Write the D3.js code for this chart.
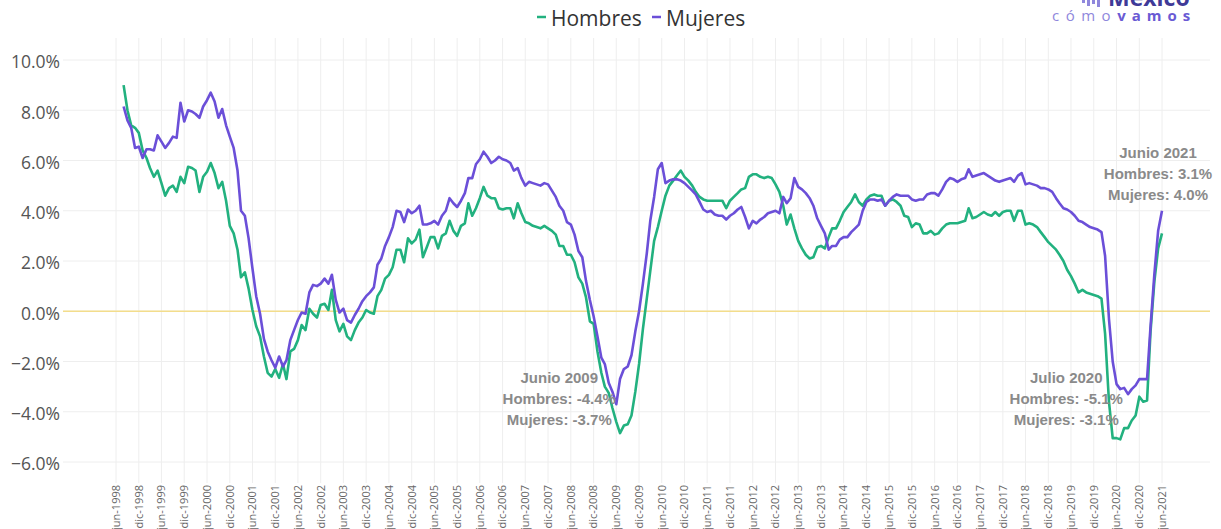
<!DOCTYPE html>
<html>
<head>
<meta charset="utf-8">
<script src="https://cdn.jsdelivr.net/npm/d3@7"></script>
<style>
  html, body { margin: 0; padding: 0; background: #fff; }
  svg { display: block; font-family: "Open Sans", sans-serif; }
  .grid line { stroke: #eeeeee; stroke-width: 1; }
  .ylab { font-size: 17.5px; fill: #555; }
  .xlab { font-size: 11px; fill: #666; }
  .note { font-family: "Liberation Sans", Arial, sans-serif; font-weight: bold; font-size: 15px; fill: #8a8a8a; }
</style>
</head>
<body>
<svg id="chart" width="1221" height="529"></svg>
<script>
// monthly series, Aug 1998 .. Jun 2021 (annual % change)
const START = new Date(1998, 7, 1);

const hombres = [
  9.0, 8.0, 7.4, 7.3, 7.1, 6.4, 6.1, 5.7, 5.35, 5.6,
  5.1, 4.6, 4.9, 5.0, 4.75, 5.35, 5.1, 5.75, 5.7, 5.6,
  4.75, 5.35, 5.55, 5.9, 5.5, 4.9, 5.15, 4.4, 3.4, 3.1,
  2.45, 1.35, 1.55, 0.9, 0.05, -0.6, -1.0, -1.8, -2.45, -2.6,
  -2.3, -2.65, -2.1, -2.7, -1.6, -1.5, -1.15, -0.55, -0.75, 0.1,
  -0.1, -0.25, 0.25, 0.3, 0.05, 0.85, -0.35, -0.8, -0.5, -1.0,
  -1.15, -0.75, -0.45, -0.25, 0.05, -0.05, -0.1, 0.6, 0.85, 1.3,
  1.45, 1.75, 2.45, 2.45, 1.95, 2.9, 2.7, 2.85, 3.25, 2.15,
  2.55, 2.95, 2.95, 2.5, 3.0, 3.1, 3.6, 3.2, 3.0, 3.4,
  3.5, 4.3, 3.8, 4.1, 4.5, 4.95, 4.6, 4.5, 4.5, 4.1,
  4.05, 4.1, 4.1, 3.7, 4.3, 3.9, 3.55, 3.5, 3.4, 3.35,
  3.3, 3.4, 3.3, 3.2, 3.05, 2.6, 2.6, 2.25, 2.25, 1.95,
  1.35, 1.1, 0.55, -0.4, -0.5, -1.6, -2.45, -3.0, -3.25, -3.85,
  -4.4, -4.85, -4.55, -4.5, -4.15, -3.2, -2.1, -0.7, 0.5, 1.6,
  2.8, 3.35, 4.0, 4.6, 5.0, 5.2, 5.4, 5.6, 5.35, 5.2,
  5.0, 4.75, 4.55, 4.45, 4.4, 4.4, 4.4, 4.4, 4.4, 4.1,
  4.4, 4.55, 4.7, 4.85, 4.9, 5.35, 5.45, 5.45, 5.35, 5.3,
  5.35, 5.3, 5.05, 4.75, 4.2, 3.45, 3.85, 3.3, 2.8, 2.5,
  2.25, 2.1, 2.15, 2.55, 2.6, 2.5, 2.95, 3.3, 3.3, 3.6,
  3.95, 4.15, 4.35, 4.65, 4.35, 4.2, 4.45, 4.6, 4.65, 4.6,
  4.6, 4.2, 4.4, 4.45, 4.35, 4.2, 3.8, 3.75, 3.35, 3.5,
  3.45, 3.1, 3.1, 3.2, 3.05, 3.1, 3.3, 3.45, 3.5, 3.5,
  3.5, 3.55, 3.6, 4.1, 3.7, 3.75, 3.85, 3.95, 3.85, 3.8,
  3.95, 3.8, 3.95, 4.0, 4.0, 3.6, 4.0, 4.0, 3.45, 3.5,
  3.45, 3.35, 3.15, 2.95, 2.75, 2.6, 2.45, 2.25, 2.0, 1.65,
  1.4, 1.1, 0.75, 0.85, 0.75, 0.7, 0.65, 0.6, 0.5, -0.9,
  -3.6, -5.05, -5.05, -5.1, -4.65, -4.65, -4.35, -4.15, -3.4, -3.6,
  -3.55, -0.8, 1.2, 2.5, 3.1
];

const mujeres = [
  8.15, 7.6, 7.3, 6.5, 6.55, 6.1, 6.45, 6.45, 6.4, 7.0,
  6.75, 6.5, 6.7, 6.95, 6.9, 8.3, 7.55, 8.0, 7.95, 7.85,
  7.7, 8.15, 8.4, 8.7, 8.35, 7.7, 8.05, 7.4, 6.95, 6.5,
  5.6, 4.0, 3.8, 2.9, 1.7, 0.6, -0.1, -1.1, -1.6, -1.95,
  -2.25, -1.8, -2.2, -1.95, -1.15, -0.75, -0.35, -0.05, -0.1, 0.75,
  1.05, 1.0, 1.1, 1.3, 1.1, 1.45, 0.45, -0.05, 0.1, -0.35,
  -0.45, -0.15, 0.1, 0.4, 0.6, 0.75, 0.95, 1.85, 2.1, 2.6,
  2.95, 3.35, 4.0, 3.95, 3.55, 4.05, 3.9, 4.0, 4.2, 3.45,
  3.45, 3.5, 3.6, 3.45, 3.8, 4.0, 4.5, 4.3, 4.15, 4.4,
  4.7, 5.3, 5.3, 5.85, 6.05, 6.35, 6.15, 5.9, 6.0, 6.15,
  6.05, 6.0, 5.9, 5.6, 5.7, 5.3, 5.0, 5.15, 5.1, 5.05,
  5.0, 5.1, 5.05, 4.8, 4.55, 4.2, 4.0, 3.55, 3.45, 3.05,
  2.4, 2.15, 1.2, 0.45, -0.2, -1.0, -1.85, -2.1, -2.85, -3.2,
  -3.7, -2.7, -2.3, -2.2, -1.75, -0.8, 0.0, 1.1, 2.3, 3.6,
  4.55, 5.65, 5.9, 5.1, 5.2, 5.25, 5.25, 5.2, 5.1, 4.95,
  4.8, 4.65, 4.35, 4.05, 3.95, 4.0, 3.85, 3.8, 3.8, 3.65,
  3.8, 3.9, 4.05, 4.15, 3.75, 3.3, 3.6, 3.5, 3.65, 3.75,
  3.9, 3.95, 4.0, 3.9, 4.55, 4.3, 4.5, 5.3, 4.95, 4.85,
  4.7, 4.5, 4.2, 3.7, 3.4, 3.1, 2.45, 2.6, 2.6, 2.85,
  2.95, 2.95, 3.15, 3.3, 3.45, 4.0, 4.35, 4.45, 4.45, 4.4,
  4.45, 4.2, 4.4, 4.55, 4.65, 4.6, 4.6, 4.6, 4.45, 4.4,
  4.45, 4.45, 4.65, 4.7, 4.7, 4.6, 4.85, 5.15, 5.3, 5.25,
  5.15, 5.25, 5.3, 5.65, 5.35, 5.4, 5.45, 5.5, 5.4, 5.3,
  5.2, 5.15, 5.2, 5.25, 5.3, 5.15, 5.4, 5.5, 5.05, 5.1,
  5.05, 5.0, 4.9, 4.9, 4.85, 4.75, 4.5, 4.3, 4.1, 4.05,
  3.95, 3.8, 3.6, 3.55, 3.45, 3.35, 3.3, 3.25, 3.15, 2.2,
  -0.3, -2.0, -2.9, -3.1, -3.05, -3.3, -3.1, -2.95, -2.7, -2.7,
  -2.7, -0.6, 1.5, 3.2, 4.0
];

const yTicks = [-6, -4, -2, 0, 2, 4, 6, 8, 10];
const monthNames = ['jun', 'dic'];
const tickYears = d3.range(1998, 2022);

const annotations = [
  { lines: ['Junio 2009', 'Hombres: -4.4%', 'Mujeres: -3.7%'], date: new Date(2009, 5, 1), dx: -57, y: 383 },
  { lines: ['Julio 2020', 'Hombres: -5.1%', 'Mujeres: -3.1%'], date: new Date(2020, 6, 1), dx: -54, y: 383 },
  { lines: ['Junio 2021', 'Hombres: 3.1%', 'Mujeres: 4.0%'], date: new Date(2021, 5, 1), dx: -4, y: 158 }
];

const COLORS = { hombres: '#22b17f', mujeres: '#6b4fd8' };

const svg = d3.select('#chart');
const x = d3.scaleTime().domain([new Date(1998, 5, 1), new Date(2021, 5, 1)]).range([116, 1162]);
const y = d3.scaleLinear().domain([-6, 10]).range([462, 60]);
const plotLeft = 63, plotRight = 1210;

const months = hombres.map((_, i) => d3.timeMonth.offset(START, i));
const tickDates = [];
tickYears.forEach(yr => {
  tickDates.push({ date: new Date(yr, 5, 1), label: `${monthNames[0]}-${yr}` });
  if (yr < 2021) tickDates.push({ date: new Date(yr, 11, 1), label: `${monthNames[1]}-${yr}` });
});

// grid
const grid = svg.append('g').attr('class', 'grid');
grid.selectAll('line.h').data(yTicks).join('line')
  .attr('class', 'h')
  .attr('x1', plotLeft).attr('x2', plotRight)
  .attr('y1', d => y(d)).attr('y2', d => y(d));
grid.selectAll('line.v').data(tickDates).join('line')
  .attr('class', 'v')
  .attr('x1', d => x(d.date)).attr('x2', d => x(d.date))
  .attr('y1', 38).attr('y2', 483);

// zero line
svg.append('line')
  .attr('x1', plotLeft).attr('x2', plotRight)
  .attr('y1', y(0)).attr('y2', y(0))
  .attr('stroke', '#f3dd8c').attr('stroke-width', 1.6);

// y labels
svg.append('g').selectAll('text').data(yTicks).join('text')
  .attr('class', 'ylab')
  .attr('x', 60).attr('y', d => y(d)).attr('dy', '0.48em')
  .attr('text-anchor', 'end')
  .text(d => d3.format('.1f')(d) + '%');

// x labels
svg.append('g').selectAll('text').data(tickDates).join('text')
  .attr('class', 'xlab')
  .attr('transform', d => `translate(${x(d.date)},485) rotate(-90)`)
  .attr('dy', '0.35em')
  .attr('text-anchor', 'end')
  .text(d => d.label);

// lines
const line = d3.line().x((d, i) => x(months[i])).y(d => y(d));
[['hombres', hombres], ['mujeres', mujeres]].forEach(([key, values]) => {
  svg.append('path')
    .datum(values)
    .attr('fill', 'none')
    .attr('stroke', COLORS[key])
    .attr('stroke-width', 2.6)
    .attr('stroke-linejoin', 'round')
    .attr('d', line);
});

// annotations
annotations.forEach(a => {
  const cx = x(a.date) + a.dx;
  svg.append('g').selectAll('text').data(a.lines).join('text')
    .attr('class', 'note')
    .attr('x', cx).attr('y', (d, i) => a.y + i * 21)
    .attr('text-anchor', 'middle')
    .text(d => d);
});

// legend
const legend = svg.append('g').attr('font-size', 21).attr('fill', '#333');
[['hombres', 'Hombres', 537], ['mujeres', 'Mujeres', 652]].forEach(([key, label, lx]) => {
  legend.append('line').attr('x1', lx).attr('x2', lx + 9).attr('y1', 17).attr('y2', 17)
    .attr('stroke', COLORS[key]).attr('stroke-width', 2.5);
  legend.append('text').attr('x', lx + 14).attr('y', 26).text(label);
});

// logo
const logo = svg.append('g');
[0, 1, 2, 3].forEach(k => {
  logo.append('rect').attr('x', 1082 + k * 5).attr('y', -2).attr('width', 3)
    .attr('height', [5, 8, 6, 9][k]).attr('fill', '#8f87dc');
});
logo.append('text').attr('x', 1108).attr('y', 6)
  .attr('font-family', '"Open Sans", sans-serif').attr('font-weight', 'bold').attr('font-size', 23)
  .attr('fill', '#3f3a98').text('México');
const sub = logo.append('text').attr('x', 1052).attr('y', 21)
  .attr('font-family', '"Open Sans", sans-serif').attr('font-size', 15).attr('letter-spacing', 6.5);
sub.append('tspan').attr('fill', '#8f87dc').text('cómo');
sub.append('tspan').attr('fill', '#6a5ad4').attr('font-weight', 'bold').attr('letter-spacing', 6).text('vamos');
</script>
</body>
</html>
